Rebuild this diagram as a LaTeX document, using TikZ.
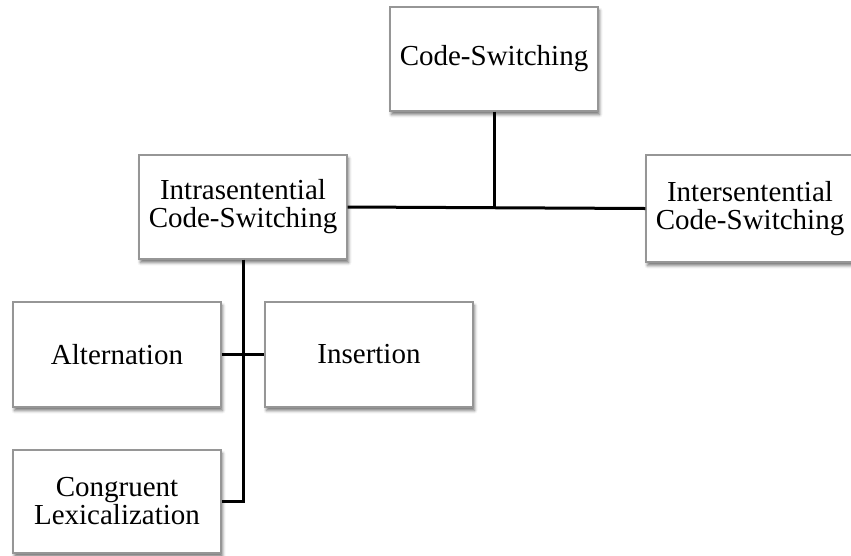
\documentclass[tikz,border=0pt]{standalone}
\usepackage{fontspec}
\setmainfont{Liberation Serif}
\usetikzlibrary{positioning, shadows.blur}
\definecolor{boxline}{RGB}{150, 150, 150}

\begin{document}
\begin{tikzpicture}[x=1pt, y=-1pt,
    font=\fontsize{29}{28}\selectfont,
    box/.style={draw=boxline, line width=1.4pt, fill=white, align=center,
      minimum width=208pt, minimum height=104pt, inner sep=0pt,
      blur shadow={shadow xshift=1.5pt, shadow yshift=-3.5pt,
        shadow blur radius=3pt, shadow opacity=55}},
    link/.style={line width=3pt, black}]
  \useasboundingbox (0,0) rectangle (851,555);
  % top level
  \node[box] (cs) at (494,59) {Code-Switching};
  \node[box] (intra) at (243,207) {Intrasentential\\Code-Switching};
  \node[box, minimum height=107pt] (inter) at (750,208.5) {Intersentential\\Code-Switching};
  % kinds of intrasentential switching
  \node[box, minimum height=105pt] (alt) at (117,354.5) {Alternation};
  \node[box, minimum height=105pt] (ins) at (369,354.5) {Insertion};
  \node[box, minimum height=103pt] (cong) at (117,501.5) {Congruent\\Lexicalization};
  % connectors
  \draw[link] (intra.east) -- (inter.west);
  \draw[link] (cs.south) -- (cs.south |- intra.east);
  \draw[link] (intra.south) |- (cong.east);
  \draw[link] (alt.east) -- (ins.west);
\end{tikzpicture}
\end{document}
